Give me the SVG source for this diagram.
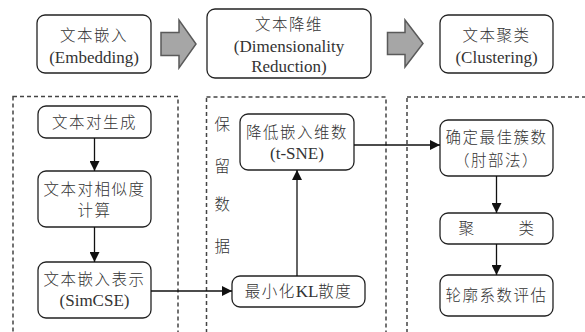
<svg xmlns="http://www.w3.org/2000/svg" width="585" height="332" viewBox="0 0 585 332">
  <style>
    text { font-family: "Liberation Serif", "Noto Sans CJK SC", serif; font-size: 17px; fill: #333; text-anchor: middle; }
    .cjk { font-size: 15.5px; letter-spacing: 1.5px; font-weight: 300; }
    .box { fill: #fff; stroke: #222; stroke-width: 1.3; }
    .panel { fill: none; stroke: #444; stroke-width: 1.5; stroke-dasharray: 4 3; }
    .big { fill: #a6a6a6; stroke: #5a5a5a; stroke-width: 1.5; stroke-linejoin: miter; }
    .link { fill: none; stroke: #111; stroke-width: 1.3; marker-end: url(#head); }
  </style>
  <defs>
    <marker id="head" viewBox="0 0 10 10" refX="10" refY="5" markerWidth="10" markerHeight="10" markerUnits="userSpaceOnUse" orient="auto">
      <path d="M0,0 L10,5 L0,10 z" fill="#111"/>
    </marker>
  </defs>

  <rect width="585" height="332" fill="#fff"/>

  <!-- stage panels -->
  <g id="panels">
    <rect class="panel" x="13" y="96.5" width="165" height="250"/>
    <rect class="panel" x="206.5" y="97" width="179.5" height="250"/>
    <rect class="panel" x="407" y="97" width="190" height="250"/>
  </g>

  <!-- stage headers -->
  <g id="stage-embedding">
    <rect class="box" x="37" y="15" width="114" height="58" rx="8"/>
    <text x="94" y="41"><tspan class="cjk">文本嵌入</tspan></text>
    <text x="94" y="63">(Embedding)</text>
  </g>
  <g id="stage-reduction">
    <rect class="box" x="207" y="9" width="164" height="69" rx="8"/>
    <text x="289" y="30"><tspan class="cjk">文本降维</tspan></text>
    <text x="289" y="52">(Dimensionality</text>
    <text x="289" y="71.5">Reduction)</text>
  </g>
  <g id="stage-clustering">
    <rect class="box" x="440" y="15" width="113" height="58" rx="8"/>
    <text x="496.5" y="41"><tspan class="cjk">文本聚类</tspan></text>
    <text x="496.5" y="63">(Clustering)</text>
  </g>

  <!-- block arrows between stages -->
  <g id="stage-arrows">
    <path class="big" d="M161,32.5 H179 V20 L196,44 L179,68 V55.5 H161 Z"/>
    <path class="big" d="M387.5,32.5 H405 V20 L423,43.5 L405,67 V54.5 H387.5 Z"/>
  </g>

  <!-- left column -->
  <g id="pair-gen">
    <rect class="box" x="38" y="106" width="113" height="32" rx="8"/>
    <text x="94.5" y="128"><tspan class="cjk">文本对生成</tspan></text>
  </g>
  <g id="pair-sim">
    <rect class="box" x="38" y="171" width="113" height="56" rx="8"/>
    <text x="94.5" y="195"><tspan class="cjk">文本对相似度</tspan></text>
    <text x="94.5" y="216"><tspan class="cjk">计算</tspan></text>
  </g>
  <g id="simcse">
    <rect class="box" x="38" y="262" width="113" height="56" rx="8"/>
    <text x="94.5" y="285"><tspan class="cjk">文本嵌入表示</tspan></text>
    <text x="94.5" y="306">(SimCSE)</text>
  </g>

  <!-- middle column -->
  <g id="keep-data">
    <text x="223" y="130"><tspan class="cjk">保</tspan></text>
    <text x="223" y="172"><tspan class="cjk">留</tspan></text>
    <text x="223" y="210"><tspan class="cjk">数</tspan></text>
    <text x="223" y="252"><tspan class="cjk">据</tspan></text>
  </g>
  <g id="tsne">
    <rect class="box" x="240" y="114" width="114" height="56" rx="8"/>
    <text x="297" y="138"><tspan class="cjk">降低嵌入维数</tspan></text>
    <text x="297" y="159">(t-SNE)</text>
  </g>
  <g id="kl">
    <rect class="box" x="232" y="276" width="133" height="31" rx="8"/>
    <text x="298.5" y="297"><tspan class="cjk">最小化</tspan>KL<tspan class="cjk">散度</tspan></text>
  </g>

  <!-- right column -->
  <g id="elbow">
    <rect class="box" x="440" y="120" width="113" height="56" rx="8"/>
    <text x="496.5" y="143"><tspan class="cjk">确定最佳簇数</tspan></text>
    <text x="496.5" y="166"><tspan class="cjk">（肘部法）</tspan></text>
  </g>
  <g id="cluster">
    <rect class="box" x="440" y="213" width="113" height="31" rx="8"/>
    <text y="234"><tspan class="cjk" x="467">聚</tspan><tspan class="cjk" x="527">类</tspan></text>
  </g>
  <g id="silhouette">
    <rect class="box" x="440" y="275" width="113" height="41" rx="8"/>
    <text x="496.5" y="301"><tspan class="cjk">轮廓系数评估</tspan></text>
  </g>

  <!-- connectors -->
  <g id="connectors">
    <path class="link" d="M94.5,138 V171"/>
    <path class="link" d="M94.5,227 V262"/>
    <path class="link" d="M151,291 H232"/>
    <path class="link" d="M297,276 V170"/>
    <path class="link" d="M354,145 H440"/>
    <path class="link" d="M496.5,176 V213"/>
    <path class="link" d="M496.5,244 V275"/>
  </g>
</svg>
